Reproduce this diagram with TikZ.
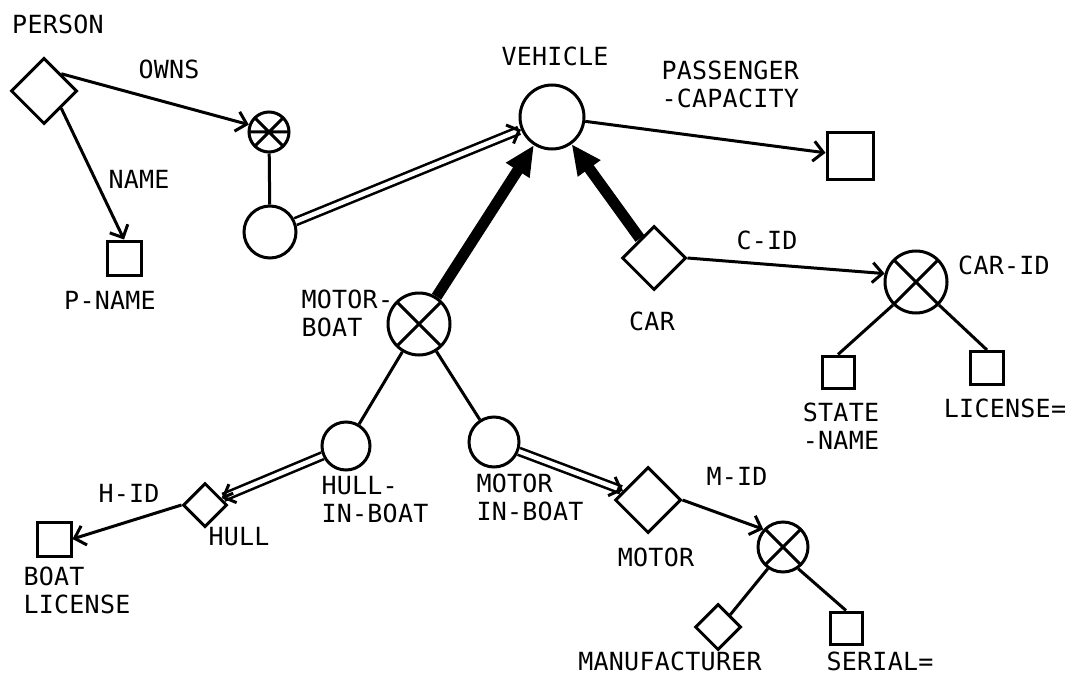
\documentclass[tikz,border=0pt]{standalone}
\usepackage{fontspec}
\setmonofont[LetterSpace=1]{DejaVu Sans Mono}
\usetikzlibrary{arrows.meta,shapes.geometric,calc}
\begin{document}
\begin{tikzpicture}[x=1pt,y=-1pt,line width=3pt,
  lbl/.style={font=\ttfamily\fontsize{25}{28}\selectfont,align=left,inner sep=0pt},
  lblc/.style={lbl,align=center},
  ent/.style={draw,diamond,inner sep=0pt,minimum size=#1},
  att/.style={draw,rectangle,inner sep=0pt,minimum size=#1},
  rel/.style={draw,circle,inner sep=0pt,minimum size=#1},
  xrel/.style={rel=#1,path picture={
    \draw[line width=3pt] (path picture bounding box.north west) -- (path picture bounding box.south east)
      (path picture bounding box.north east) -- (path picture bounding box.south west);}},
  xhrel/.style={rel=#1,path picture={
    \draw[line width=3pt] (path picture bounding box.north west) -- (path picture bounding box.south east)
      (path picture bounding box.north east) -- (path picture bounding box.south west)
      (path picture bounding box.west) -- (path picture bounding box.east);}},
  arr/.style={-{Straight Barb[length=10pt,width=20pt,line width=3pt]}},
  isa/.style={line width=11pt,-{Triangle[length=30pt 0,width=26pt 0]}},
  dbl/.style={double,double distance=4.5pt,line width=2.6pt,shorten >=2pt},
]
\useasboundingbox (0,0) rectangle (1073,682);
\fill[white] (0,0) rectangle (1073,682);

% nodes
\node[ent=66pt] (person) at (44,91) {};
\node[xhrel=40pt] (owns) at (269,132) {};
\node[rel=52pt] (own) at (270,232) {};
\node[att=34pt] (pname) at (124,258) {};
\node[rel=64pt] (veh) at (552,117) {};
\node[att=46pt] (cap) at (850,156) {};
\node[ent=64pt] (car) at (654,258) {};
\node[xrel=62pt] (carid) at (916,282) {};
\node[att=32pt] (state) at (838,372) {};
\node[att=33pt] (lic) at (987,368) {};
\node[xrel=62pt] (mb) at (419,324) {};
\node[rel=48pt] (hib) at (346,446) {};
\node[rel=50pt] (mib) at (494,442) {};
\node[ent=44pt] (hull) at (205,505) {};
\node[att=34pt] (bl) at (54,539) {};
\node[ent=66pt] (motor) at (648,500) {};
\node[xrel=50pt] (mid) at (783,547) {};
\node[ent=46pt] (manu) at (718,627) {};
\node[att=32pt] (serial) at (846,628) {};

% labels
\node[lbl] (tperson) at (58,24) {PERSON};
\node[lbl] (towns) at (169,69) {OWNS};
\node[lbl] (tname) at (139,179) {NAME};
\node[lbl] (tpname) at (110,300) {P-NAME};
\node[lbl] (tveh) at (555,56) {VEHICLE};
\node[lbl,anchor=west] (tcap) at (660,84) {PASSENGER\\-CAPACITY};
\node[lbl] (tcid) at (767,240) {C-ID};
\node[lbl] (tcar) at (652,321) {CAR};
\node[lbl] (tcarid) at (1004,265) {CAR-ID};
\node[lblc] (tstate) at (841,426) {STATE\\-NAME};
\node[lbl] (tlic) at (1005,408) {LICENSE=};
\node[lbl,anchor=west] (tmb) at (300,313) {MOTOR-\\BOAT};
\node[lbl,anchor=west] (thib) at (320,500) {HULL-\\IN-BOAT};
\node[lbl,anchor=west] (tmib) at (475,497) {MOTOR\\IN-BOAT};
\node[lbl] (thid) at (129,493) {H-ID};
\node[lbl] (thull) at (239,537) {HULL};
\node[lbl,anchor=west] (tbl) at (22,590) {BOAT\\LICENSE};
\node[lbl] (tmotor) at (656,557) {MOTOR};
\node[lbl] (tmid) at (737,476) {M-ID};
\node[lbl] (tmanu) at (670,661) {MANUFACTURER};
\node[lbl] (tserial) at (880,661) {SERIAL=};

% connectors
\draw[arr] (person.north east) -- (owns.160);
\draw[arr] (person.south east) -- (pname.north);
\draw (owns) -- (own);
\draw[dbl] (own) -- (veh);
\draw[arr] ($(own)!0.88!(veh)$) -- (veh);
\draw[arr] (veh) -- (cap);
\draw[isa] (mb) -- (veh);
\draw[isa] (car) -- (veh);
\draw[arr] (car.east) -- (carid.165);
\draw (carid.225) -- (state.north);
\draw (carid.315) -- (lic.north);
\draw (mb) -- (hib);
\draw (mb) -- (mib);
\draw[dbl] (hib) -- (hull);
\draw[arr] ($(hib)!0.8!(hull)$) -- (hull);
\draw[arr] (hull.west) -- (bl.east);
\draw[dbl] (mib) -- (motor);
\draw[arr] ($(mib)!0.8!(motor)$) -- (motor);
\draw[arr] (motor.east) -- (mid.138);
\draw (mid.235) -- (manu.north east);
\draw (mid.305) -- (serial.north);
\end{tikzpicture}
\end{document}
